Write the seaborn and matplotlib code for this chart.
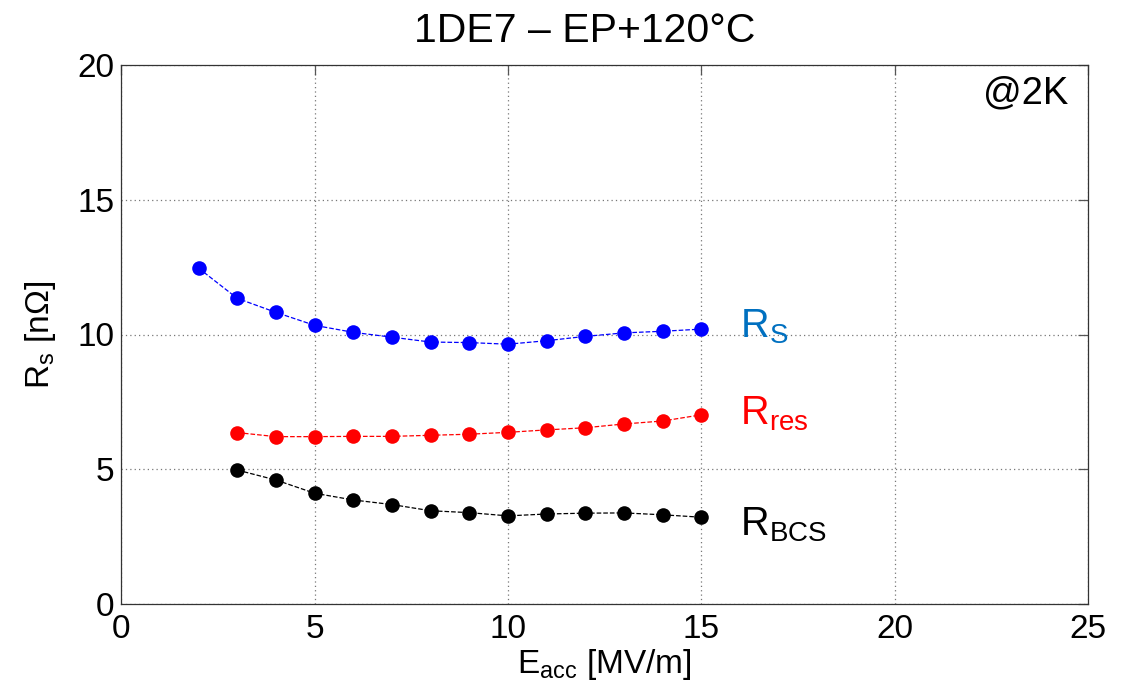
import matplotlib
matplotlib.use("Agg")
import matplotlib.pyplot as plt
import seaborn as sns
import pandas as pd

# Accelerating field [MV/m]
e_rs = [2, 3, 4, 5, 6, 7, 8, 9, 10, 11, 12, 13, 14, 15]
e_fit = [3, 4, 5, 6, 7, 8, 9, 10, 11, 12, 13, 14, 15]

# Surface resistance components [nOhm]
r_s = [12.46, 11.34, 10.82, 10.34, 10.08, 9.90, 9.72, 9.70, 9.64, 9.77, 9.93, 10.06, 10.12, 10.20]
r_res = [6.36, 6.21, 6.21, 6.22, 6.22, 6.26, 6.30, 6.37, 6.46, 6.54, 6.68, 6.79, 7.02]
r_bcs = [4.97, 4.60, 4.11, 3.86, 3.69, 3.46, 3.39, 3.27, 3.34, 3.37, 3.38, 3.31, 3.22]

x_ticks = [0, 5, 10, 15, 20, 25]
y_ticks = [0, 5, 10, 15, 20]

sns.set_theme(style="white")
plt.rcParams["font.family"] = ["Liberation Sans", "DejaVu Sans"]
plt.rcParams["mathtext.fontset"] = "custom"
plt.rcParams["mathtext.rm"] = "Liberation Sans"
plt.rcParams["mathtext.it"] = "Liberation Sans"
plt.rcParams["text.color"] = "black"
plt.rcParams["axes.labelcolor"] = "black"

W, H = 1133, 690
fig = plt.figure(figsize=(W / 100, H / 100), dpi=100)
ax = fig.add_axes([121.3 / W, (H - 604) / H, (1088 - 121.3) / W, (604 - 65) / H])

series = [
    (e_rs, r_s, "#0000ff"),
    (e_fit, r_res, "#ff0000"),
    (e_fit, r_bcs, "#000000"),
]
for xs, ys, col in series:
    df = pd.DataFrame({"E": xs, "R": ys})
    sns.lineplot(data=df, x="E", y="R", ax=ax, color=col, linestyle="--",
                 linewidth=0.9, marker="o", markersize=10.5, markeredgewidth=0,
                 markeredgecolor=col, zorder=3)

ax.set_xlim(0, 25)
ax.set_ylim(0, 20)
ax.set_xticks(x_ticks)
ax.set_yticks(y_ticks)
ax.tick_params(axis="both", direction="in", length=7, width=0.9, labelsize=24,
               top=True, right=True, colors="#555555", labelcolor="black")
ax.tick_params(axis="x", pad=7)
ax.tick_params(axis="y", pad=5)
ax.grid(True, linestyle=(0, (1, 2.5)), color="#777777", linewidth=0.9)
for sp in ax.spines.values():
    sp.set_color("#333333")
    sp.set_linewidth(0.9)

ax.set_xlabel(r"E$_{\mathrm{acc}}$ [MV/m]", fontsize=24, labelpad=2)
ax.set_ylabel(r"R$_{\mathrm{s}}$ [n$\Omega$]", fontsize=24, labelpad=14)
fig.text(585 / W, 1 - 42 / H, "1DE7 – EP+120°C", ha="center", va="baseline", fontsize=29.5)

ax.text(0.9795, 0.981, "@2K", transform=ax.transAxes, ha="right", va="top", fontsize=27.5)
ax.text(16.0, 9.9, r"R$_{\mathrm{S}}$", color="#0070c0", fontsize=28.5, va="baseline")
ax.text(16.0, 6.68, r"R$_{\mathrm{res}}$", color="#ff0000", fontsize=28.5, va="baseline")
ax.text(16.0, 2.56, r"R$_{\mathrm{BCS}}$", color="#000000", fontsize=28.5, va="baseline")

fig.savefig("out.png", dpi=100, facecolor="white")
